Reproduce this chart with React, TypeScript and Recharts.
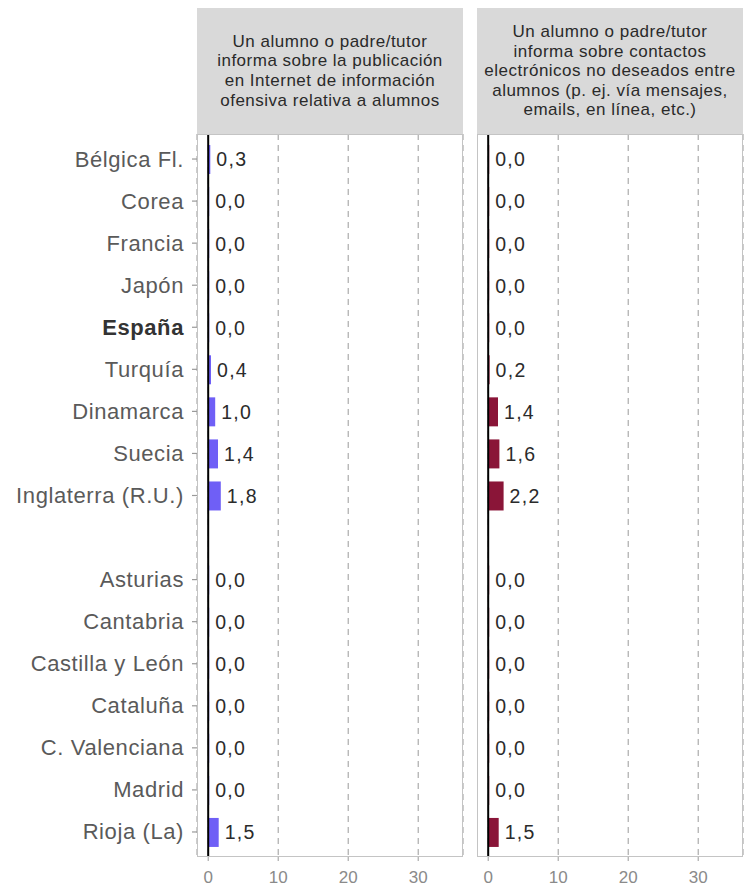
import React from "react";
import {
  BarChart,
  Bar,
  XAxis,
  YAxis,
  CartesianGrid,
  ReferenceLine,
  LabelList,
} from "recharts";

const categories = [
  "Bélgica Fl.",
  "Corea",
  "Francia",
  "Japón",
  "España",
  "Turquía",
  "Dinamarca",
  "Suecia",
  "Inglaterra (R.U.)",
  "",
  "Asturias",
  "Cantabria",
  "Castilla y León",
  "Cataluña",
  "C. Valenciana",
  "Madrid",
  "Rioja (La)",
];

const publicacion = [0.3, 0, 0, 0, 0, 0.4, 1.0, 1.4, 1.8, null, 0, 0, 0, 0, 0, 0, 1.5];
const contactos = [0, 0, 0, 0, 0, 0.2, 1.4, 1.6, 2.2, null, 0, 0, 0, 0, 0, 0, 1.5];

const xTicks = [0, 10, 20, 30];

// strip titles, one entry per line
const titlePublicacion = [
  "Un alumno o padre/tutor",
  "informa sobre la publicación",
  "en Internet de información",
  "ofensiva relativa a alumnos",
];
const titleContactos = [
  "Un alumno o padre/tutor",
  "informa sobre contactos",
  "electrónicos no deseados entre",
  "alumnos (p. ej. vía mensajes,",
  "emails, en línea, etc.)",
];

const FONT = '"Liberation Sans", Arial, Helvetica, sans-serif';
const TICK_SIZE = 5;
const TICK_MARGIN = 8;
const CHART_H = 889;
const TOP = 134;
const X_AXIS_H = 32;
const PANEL_W = 266;

const fmt = (v: unknown) =>
  v === null || v === undefined ? "" : Number(v).toFixed(1).replace(".", ",");

const CountryTick = (props: any) => {
  const { x, y, payload } = props;
  const label = payload.value as string;
  if (!label) return <g />;
  const bold = label === "España";
  return (
    <g>
      <line
        x1={x + TICK_MARGIN}
        x2={x + TICK_MARGIN + TICK_SIZE}
        y1={y}
        y2={y}
        stroke="#9a9a9a"
        strokeWidth={1.2}
      />
      <text
        x={x}
        y={y}
        textAnchor="end"
        dominantBaseline="central"
        fontSize={22}
        letterSpacing={0.6}
        fontFamily={FONT}
        fontWeight={bold ? "bold" : "normal"}
        fill={bold ? "#333" : "#5a5a5a"}
      >
        {label}
      </text>
    </g>
  );
};

function Panel({
  values,
  color,
  showY,
  width,
  left,
  marginRight,
}: {
  values: (number | null)[];
  color: string;
  showY: boolean;
  width: number;
  left: number;
  marginRight: number;
}) {
  const rows = categories.map((name, i) => ({ name, value: values[i] }));
  return (
    <div style={{ position: "absolute", left, top: 0 }}>
      <BarChart
        width={width}
        height={CHART_H}
        data={rows}
        layout="vertical"
        margin={{ top: TOP, right: marginRight, bottom: 0, left: 0 }}
        barCategoryGap={0}
      >
        <CartesianGrid
          horizontal={false}
          strokeDasharray="6 5"
          stroke="#9a9a9a"
          strokeWidth={1}
        />
        <XAxis
          type="number"
          domain={[-1.6, 36.4]}
          allowDataOverflow
          ticks={xTicks}
          axisLine={false}
          tickLine={{ stroke: "#9a9a9a" }}
          tickSize={4}
          tickMargin={10}
          height={X_AXIS_H}
          tick={{ fontSize: 17, fontFamily: FONT, fill: "#8a8a8a" }}
        />
        <YAxis
          type="category"
          dataKey="name"
          width={showY ? 197 : 0}
          hide={!showY}
          axisLine={false}
          tickLine={false}
          tickSize={TICK_SIZE}
          tickMargin={TICK_MARGIN}
          interval={0}
          padding={{ top: 4, bottom: 4 }}
          tick={<CountryTick />}
        />
        <Bar
          dataKey="value"
          fill={color}
          barSize={29}
          minPointSize={1}
          isAnimationActive={false}
        >
          <LabelList
            dataKey="value"
            position="right"
            offset={6}
            formatter={fmt}
            style={{
              fontSize: 19.5,
              letterSpacing: 1.3,
              fontFamily: FONT,
              fill: "#2b2b2b",
            }}
          />
        </Bar>
        <ReferenceLine x={0} stroke="#000" strokeWidth={2} />
      </BarChart>
    </div>
  );
}

const headerStyle = (left: number): React.CSSProperties => ({
  position: "absolute",
  left,
  top: 8,
  width: PANEL_W,
  height: TOP - 8,
  background: "#d9d9d9",
  display: "flex",
  flexDirection: "column",
  alignItems: "center",
  justifyContent: "center",
  textAlign: "center",
  fontFamily: FONT,
  fontSize: 17,
  letterSpacing: 0.5,
  lineHeight: "19.6px",
  color: "#2a2a2a",
  whiteSpace: "nowrap",
  boxSizing: "border-box",
});

const borderStyle = (left: number): React.CSSProperties => ({
  position: "absolute",
  left,
  top: TOP,
  width: PANEL_W,
  height: CHART_H - TOP - X_AXIS_H,
  border: "1.5px solid #c4c4c4",
  boxSizing: "border-box",
  pointerEvents: "none",
});

export default function App() {
  return (
    <div
      style={{
        position: "absolute",
        left: 0,
        top: 0,
        width: 745,
        height: 889,
        background: "#fff",
        overflow: "hidden",
      }}
    >
      <Panel values={publicacion} color="#6f5ff6" showY width={470} left={0} marginRight={7} />
      <Panel values={contactos} color="#8a1538" showY={false} width={268} left={477} marginRight={2} />
      <div style={borderStyle(197)} />
      <div style={borderStyle(477)} />
      <div style={headerStyle(197)}>
        {titlePublicacion.map((line) => (
          <div key={line}>{line}</div>
        ))}
      </div>
      <div style={headerStyle(477)}>
        {titleContactos.map((line) => (
          <div key={line}>{line}</div>
        ))}
      </div>
    </div>
  );
}
